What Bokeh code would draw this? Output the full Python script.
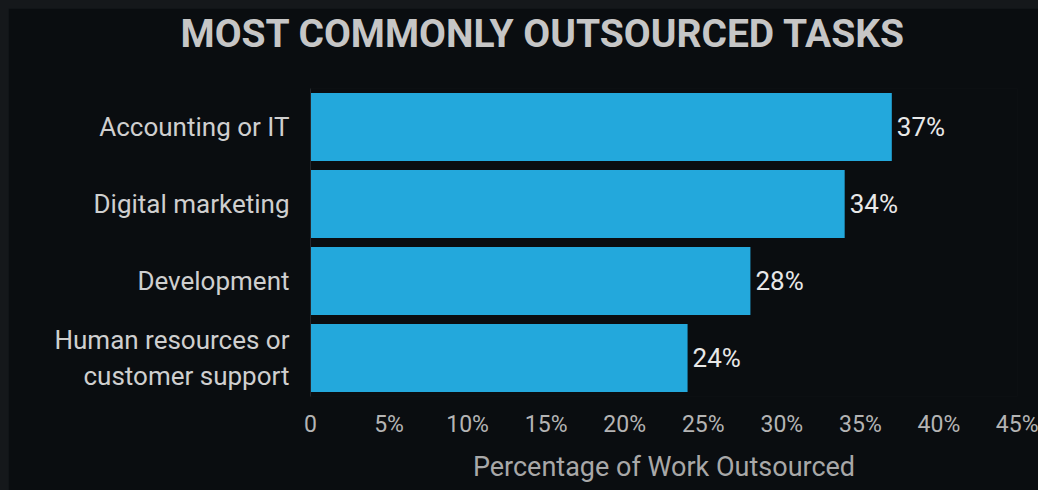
from bokeh.plotting import figure
from bokeh.models import ColumnDataSource, FactorRange, FixedTicker, Range1d, Title
from bokeh.core.properties import value
from bokeh.embed import file_html
from bokeh.resources import INLINE

# ---- data ----
title_text = "MOST COMMONLY OUTSOURCED TASKS"
categories = ["Accounting or IT", "Digital marketing", "Development",
              "Human resources or\ncustomer support"]
values = [37, 34, 28, 24]
value_labels = ["37%", "34%", "28%", "24%"]
tick_values = [0, 5, 10, 15, 20, 25, 30, 35, 40, 45]
tick_labels = ["0", "5%", "10%", "15%", "20%", "25%", "30%", "35%", "40%", "45%"]
x_label = "Percentage of Work Outsourced"

BG = "#0a0d10"
BAR = "#23a8dc"
FONT = "Roboto"

src = ColumnDataSource(dict(cat=categories, val=values, lab=value_labels))

p = figure(width=1030, height=482, output_backend="svg", toolbar_location=None,
           y_range=FactorRange(factors=list(reversed(categories)), range_padding=0),
           x_range=Range1d(0, 45),
           min_border_left=302, min_border_right=21, min_border_top=80,
           min_border_bottom=94)
p.background_fill_color = BG
p.border_fill_color = BG
p.outline_line_color = None
p.xgrid.grid_line_color = None
p.ygrid.grid_line_color = None

p.hbar(y="cat", right="val", left=0, height=0.88, source=src,
       fill_color=BAR, line_color=None)
p.text(x="val", y="cat", text="lab", source=src, x_offset=5,
       text_align="left", text_baseline="middle", text_color="#e8e8e8",
       text_font=value(FONT), text_font_size="26px")

# x axis
xa = p.xaxis[0]
xa.ticker = FixedTicker(ticks=tick_values)
xa.major_label_overrides = {t: l for t, l in zip(tick_values, tick_labels)}
xa.axis_line_color = None
xa.major_tick_line_color = None
xa.minor_tick_line_color = None
xa.major_label_text_font = FONT
xa.major_label_text_font_size = "23px"
xa.major_label_text_color = "#b4b4b4"
xa.major_label_standoff = 8
xa.axis_label = x_label
xa.axis_label_text_font = FONT
xa.axis_label_text_font_style = "normal"
xa.axis_label_text_font_size = "27px"
xa.axis_label_text_color = "#a8a8a8"
xa.axis_label_standoff = 10

# y axis
ya = p.yaxis[0]
ya.axis_line_color = "#25282d"
ya.major_tick_line_color = None
ya.minor_tick_line_color = None
ya.major_label_text_font = FONT
ya.major_label_text_font_size = "26px"
ya.major_label_text_color = "#cfcfcf"
ya.major_label_standoff = 15

# title: spacer panel next to the frame, then the title above it
spacer = Title(text=" ", text_font_size="20px", standoff=8, text_color=BG)
p.add_layout(spacer, "above")
main_title = Title(text=title_text, align="left", offset=-130, standoff=0,
                   text_font=FONT, text_font_style="bold", text_font_size="39px",
                   text_color="#c6c6c6")
p.add_layout(main_title, "above")

html = file_html(p, INLINE)
html = html.replace("</head>",
                    "<style>html,body{background-color:#15181b;}"
                    "body{margin:0 !important;padding:8px 0 0 8px !important;}</style></head>", 1)
open("out.html", "w").write(html)
